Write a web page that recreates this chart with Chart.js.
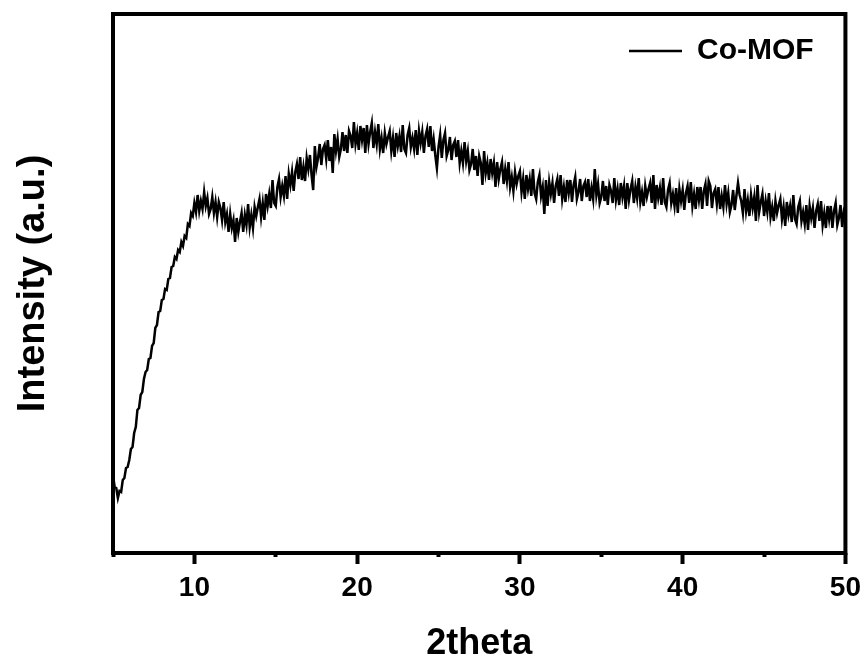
<!DOCTYPE html>
<html><head><meta charset="utf-8">
<script src="https://cdn.jsdelivr.net/npm/chart.js@4"></script>
<style>html,body{margin:0;padding:0;background:#fff}#wrap{width:868px;height:666px}</style>
</head><body><div id="wrap"><canvas id="c" width="868" height="666"></canvas></div>
<script>
const seriesName = 'Co-MOF';
const xTitle = '2theta';
const yTitle = 'Intensity (a.u.)';
const angleStart = 5.0;
const angleStep = 0.1;
const xMin = 5, xMax = 50;
const yMin = 0, yMax = 539;
const xTickValues = [10, 20, 30, 40, 50];
// intensity (arbitrary units) sampled every 0.1 degree from 5.0 to 50.0
const intensity = [
  78,66,65,55,62,61,73,75,85,86,
  93,104,106,120,126,143,145,158,161,174,
  181,183,194,195,207,210,225,228,241,242,
  253,254,264,263,274,275,286,287,296,294,
  303,301,311,307,317,315,329,327,340,337,
  350,341,358,342,352,344,361,347,355,339,
  344,356,340,351,336,351,345,333,351,331,
  339,321,339,325,333,311,335,321,331,340,
  321,338,328,349,326,338,325,346,337,346,
  354,336,350,333,359,347,359,345,373,350,
  347,366,374,356,367,357,377,354,379,368,
  381,362,381,389,374,396,373,386,372,395,
  384,398,378,363,407,386,395,409,388,404,
  408,394,413,392,406,380,419,402,414,396,
  404,421,402,418,400,422,417,405,431,409,
  420,403,427,413,425,400,428,409,421,430,
  405,421,409,429,404,415,400,420,409,416,
  422,402,415,396,420,407,417,401,428,404,
  400,418,425,406,415,404,423,398,422,410,
  421,400,417,424,406,427,402,414,398,385,
  406,418,395,413,420,397,403,416,393,408,
  412,396,413,390,402,390,411,392,402,383,
  389,404,383,397,377,397,390,368,402,380,
  390,373,394,380,390,366,391,374,384,391,
  369,384,372,391,366,376,362,381,369,377,
  382,361,374,354,378,364,374,357,384,360,
  354,371,378,357,366,339,373,347,371,359,
  370,350,367,374,357,378,354,366,351,373,
  360,373,351,368,376,354,361,374,352,367,
  371,356,374,352,365,354,384,358,369,350,
  356,372,352,367,348,368,362,350,375,353,
  364,348,370,356,367,344,370,353,364,372,
  350,366,355,375,351,361,347,367,356,364,
  370,350,378,344,368,355,365,348,375,351,
  346,363,370,350,359,347,365,340,364,352,
  363,343,360,367,350,371,347,359,344,366,
  353,366,344,362,369,347,372,367,345,360,
  364,349,366,344,357,346,368,349,360,341,
  348,363,343,357,370,358,352,340,364,342,
  353,337,358,345,356,332,368,341,351,359,
  337,352,341,360,336,346,332,352,340,348,
  354,334,346,327,351,338,347,331,358,334,
  329,346,352,332,341,329,348,323,347,335,
  345,325,342,349,332,352,328,340,325,347,
  334,347,325,342,350,328,335,348,326,341,
  336
];

const points = intensity.map((v, i) => ({ x: +(angleStart + i * angleStep).toFixed(1), y: v }));
const FONT = "'Liberation Sans', Arial, Helvetica, sans-serif";

const framePlugin = {
  id: 'frame',
  afterDatasetsDraw(chart) {
    const { ctx, chartArea: a } = chart;
    ctx.save();
    ctx.strokeStyle = '#000';
    ctx.lineWidth = 4;
    ctx.strokeRect(a.left, a.top, a.right - a.left, a.bottom - a.top);
    ctx.restore();
  }
};
const legendPlace = {
  id: 'legendPlace',
  afterLayout(chart) {
    const lg = chart.legend;
    if (!lg) return;
    lg.left = 629;
    lg.top = 36;
  }
};

new Chart(document.getElementById('c'), {
  type: 'line',
  data: {
    datasets: [{
      label: seriesName,
      data: points,
      borderColor: '#000',
      backgroundColor: '#000',
      borderWidth: 2.5,
      pointRadius: 0,
      tension: 0,
      fill: false
    }]
  },
  options: {
    responsive: false,
    animation: false,
    devicePixelRatio: 1,
    layout: { padding: { top: 14, right: 22, left: 0, bottom: 0 } },
    scales: {
      x: {
        type: 'linear',
        position: 'bottom',
        min: xMin, max: xMax,
        afterFit(s) { s.height = 113; },
        ticks: {
          stepSize: 5, autoSkip: false, maxRotation: 0, color: '#000', padding: 7,
          font: { family: FONT, size: 28, weight: 'bold' },
          callback: v => xTickValues.includes(v) ? String(v) : ''
        },
        grid: {
          drawOnChartArea: false, drawTicks: true, tickLength: 11, tickWidth: 4, tickColor: '#000',
          tickBorderDash: ctx => (ctx.tick && xTickValues.includes(ctx.tick.value)) ? [] : [4, 100]
        },
        border: { display: false },
        title: {
          display: true, text: xTitle, color: '#000',
          font: { family: FONT, size: 36, weight: 'bold' },
          padding: { top: 0, bottom: 0 }
        }
      },
      y: {
        type: 'linear',
        min: yMin, max: yMax,
        afterFit(s) { s.width = 113; },
        ticks: { display: false },
        grid: { display: false },
        border: { display: false },
        title: {
          display: true, text: yTitle, color: '#000',
          font: { family: FONT, size: 38, weight: 'bold' },
          padding: { top: 11, bottom: 0 }
        }
      }
    },
    plugins: {
      tooltip: { enabled: false },
      legend: {
        position: 'chartArea',
        align: 'start',
        labels: {
          usePointStyle: true, pointStyle: 'line', pointStyleWidth: 53,
          color: '#000', padding: 0,
          font: { family: FONT, size: 30, weight: 'bold' }
        }
      }
    }
  },
  plugins: [framePlugin, legendPlace]
});
</script>
</body></html>
